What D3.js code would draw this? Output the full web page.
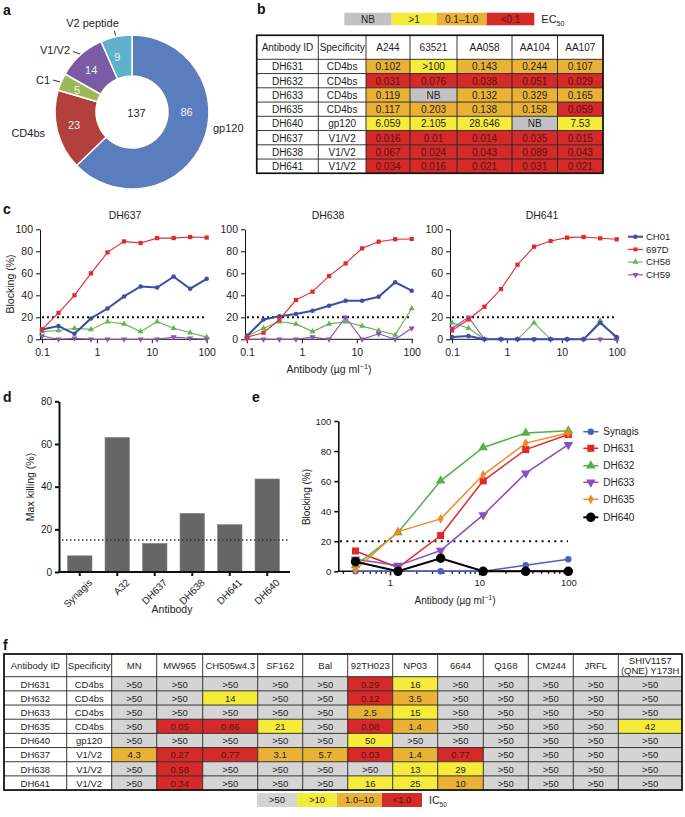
<!DOCTYPE html>
<html><head><meta charset="utf-8">
<script src="https://cdn.jsdelivr.net/npm/d3@7/dist/d3.min.js"></script>
<style>
body{margin:0;background:#fff;}
svg{display:block;}
svg text{font-family:"Liberation Sans",Arial,Helvetica,sans-serif;}
</style></head><body>
<svg width="685" height="817"></svg>
<script>
// ================= DATA =================
// a: donut
const donutCategories=["gp120","CD4bs","C1","V1/V2","V2 peptide"];
const donutValues=[86,23,5,14,9];
const donutTotal=137;

// b: EC50 table
const ec50Antibodies=["DH631","DH632","DH633","DH635","DH640","DH637","DH638","DH641"];
const ec50Specificities=["CD4bs","CD4bs","CD4bs","CD4bs","gp120","V1/V2","V1/V2","V1/V2"];
const ec50Strains=["A244","63521","AA058","AA104","AA107"];
const ec50Values=[
 ["0.102",">100","0.143","0.244","0.107"],
 ["0.031","0.076","0.038","0.051","0.029"],
 ["0.119","NB","0.132","0.329","0.165"],
 ["0.117","0.203","0.138","0.158","0.059"],
 ["6.059","2.105","28.646","NB","7.53"],
 ["0.016","0.01","0.014","0.035","0.015"],
 ["0.067","0.024","0.043","0.089","0.043"],
 ["0.034","0.016","0.021","0.031","0.021"]];
const ec50LegendLabels=["NB",">1","0.1–1.0","<0.1"];

// c: blocking curves
const blockingConcentrations=[0.1,0.2,0.39,0.78,1.56,3.125,6.25,12.5,25,50,100];
const blockingPanels=["DH637","DH638","DH641"];
const blockingSeries=["CH01","697D","CH58","CH59"];
const blockDH637_CH01=[9,12,5,19,28,39,48,47,57,46,55];
const blockDH637_697D=[9,24,40,60,79,89,87.5,92,92,93,92.5];
const blockDH637_CH58=[7,8,10,9,16,14,7,16,10,6,2];
const blockDH637_CH59=[3,0,1,0,0,0,0,0,2,1,0];
const blockDH638_CH01=[3,18,21,23,26,30.5,35,35,38.7,51.8,44.2];
const blockDH638_697D=[2,6,18,35.7,43.3,57.5,69,82.7,88.7,91,91.2];
const blockDH638_CH58=[3,10,16,14,7,14,16,12,8,4,28];
const blockDH638_CH59=[0,0,0,0,2,0,20,0,5,0,10];
const blockDH641_CH01=[2,3,0,0,0,0,0,0,0,15,2];
const blockDH641_697D=[8,18,29.6,45.7,67.8,84.2,89.4,92.4,93,91.8,90.9];
const blockDH641_CH58=[15,10,0,0,0,15,0,0,0,17,0];
const blockDH641_CH59=[10,20,0,0,0,0,0,0,0,0,0];

// d: max killing
const killingAntibodies=["Synagis","A32","DH637","DH638","DH641","DH640"];
const killingValues=[7.6,63.1,13.4,27.5,22.2,43.6];
const killingCutoff=15;

// e: blocking of CD4bs antibodies
const eConcentrations=[0.41,1.23,3.7,11.1,33.3,100];
const eSeriesNames=["Synagis","DH631","DH632","DH633","DH635","DH640"];
const eSynagis=[0,0,0,0,4,8];
const eDH631=[13.5,2.5,23.8,60.2,81,91];
const eDH632=[3.8,25.8,60.2,82.4,92,93.5];
const eDH633=[8,3.8,13.8,37.5,65.3,84.2];
const eDH635=[1,26.4,34.9,64.2,85.3,92];
const eDH640=[6.4,0,8.7,0,0,0];

// f: IC50 table
const ic50Antibodies=["DH631","DH632","DH633","DH635","DH640","DH637","DH638","DH641"];
const ic50Specificities=["CD4bs","CD4bs","CD4bs","CD4bs","gp120","V1/V2","V1/V2","V1/V2"];
const ic50Viruses=["MN","MW965","CH505w4.3","SF162","Bal","92TH023","NP03","6644","Q168","CM244","JRFL","SHIV1157\n(QNE) Y173H"];
const ic50Values=[
 [">50",">50",">50",">50",">50","0.29","16",">50",">50",">50",">50",">50"],
 [">50",">50","14",">50",">50","0.12","3.5",">50",">50",">50",">50",">50"],
 [">50",">50",">50",">50",">50","2.5","15",">50",">50",">50",">50",">50"],
 [">50","0.05","0.86","21",">50","0.08","1.4",">50",">50",">50",">50","42"],
 [">50",">50",">50",">50",">50","50",">50",">50",">50",">50",">50",">50"],
 ["4.3","0.27","0.77","3.1","5.7","0.03","1.4","0.77",">50",">50",">50",">50"],
 [">50","0.58",">50",">50",">50",">50","13","29",">50",">50",">50",">50"],
 [">50","0.34",">50",">50",">50","16","25","10",">50",">50",">50",">50"]];
const ic50LegendLabels=[">50",">10","1.0–10","<1.0"];

// ================= DRAWING =================
const svg=d3.select("svg");
const TXT="#1e1e1e";
const cellColorsB=["#c2c2c2","#f5eb3a","#e9b237","#d42a2a"];
const cellColorsF=["#d4d4d4","#f5eb3a","#e9b237","#d42a2a"];
const redText="#5a1212";

function label(t,x,y){svg.append("text").attr("x",x).attr("y",y).attr("font-size",14).attr("font-weight","bold").style("fill","#111").text(t);}
label("a",3,15);label("b",257,14);label("c",3,214);label("d",3,402);label("e",252,402);label("f",3,650);

// ---- a: donut ----
(function(){
  const cx=132,cy=112,R=77,r=36;
  const colors=["#5a7dbe","#b4403e","#9aba5a","#7a5ba4","#5db1cb"];
  const g=svg.append("g").attr("transform",`translate(${cx},${cy})`);
  const pie=d3.pie().sort(null).value(d=>d)(donutValues);
  const arc=d3.arc().innerRadius(r).outerRadius(R);
  g.selectAll("path").data(pie).join("path").attr("d",arc)
    .attr("fill",(d,i)=>colors[i]).attr("stroke","#fff").attr("stroke-width",1.5);
  g.selectAll("text.v").data(pie).join("text").attr("class","v")
    .attr("transform",(d,i)=>{
      if(i===0) return `translate(${(r+R)/2-2},0)`;
      const c=d3.arc().innerRadius((r+R)/2).outerRadius((r+R)/2).centroid(d);
      return `translate(${c[0]-3},${c[1]})`;})
    .attr("text-anchor","middle").attr("dy","0.35em").attr("font-size",11)
    .style("fill",(d,i)=>i===2?"#f4f4f4":"#eef0f6").text(d=>d.data);
  svg.append("text").attr("x",cx+4.5).attr("y",cy+1).attr("dy","0.35em").attr("text-anchor","middle")
    .attr("font-size",11).style("fill",TXT).text(donutTotal);
  const lab=[
    {t:donutCategories[0],x:213,y:128,a:"start"},
    {t:donutCategories[1],x:45,y:133,a:"end"},
    {t:donutCategories[2],x:50,y:80,a:"end",l:[53,80,60,82]},
    {t:donutCategories[3],x:70,y:50.5,a:"end",l:[73,51.5,80,54]},
    {t:donutCategories[4],x:92.5,y:23,a:"middle",l:[114.5,31,115.5,35.5]}];
  lab.forEach(o=>{
    svg.append("text").attr("x",o.x).attr("y",o.y).attr("dy","0.35em").attr("text-anchor",o.a)
      .attr("font-size",11).style("fill",TXT).text(o.t);
    if(o.l) svg.append("line").attr("x1",o.l[0]).attr("y1",o.l[1]).attr("x2",o.l[2]).attr("y2",o.l[3]).attr("stroke","#333").attr("stroke-width",1);
  });
})();

// ---- generic table ----
function drawTable(x0,y0,colW,headH,rowH,header,rows,classFn,colors,fs,hfs){
  const g=svg.append("g");
  const xs=[x0];colW.forEach(w=>xs.push(xs[xs.length-1]+w));
  const W=xs[xs.length-1]-x0,H=headH+rows.length*rowH;
  g.append("rect").attr("x",x0).attr("y",y0).attr("width",W).attr("height",H).attr("fill","#fff");
  rows.forEach((row,i)=>row.forEach((v,j)=>{
    const cls=j<2?-1:classFn(v);
    const y=y0+headH+i*rowH;
    if(cls>=0) g.append("rect").attr("x",xs[j]).attr("y",y).attr("width",colW[j]).attr("height",rowH).attr("fill",colors[cls]);
    g.append("text").attr("x",xs[j]+colW[j]/2).attr("y",y+rowH/2+0.5).attr("dy","0.35em").attr("text-anchor","middle")
      .attr("font-size",fs).style("fill",cls===3?redText:TXT).text(v);
  }));
  header.forEach((h,j)=>{
    const lines=h.split("\n");
    lines.forEach((ln,k)=>{
      g.append("text").attr("x",xs[j]+colW[j]/2).attr("y",y0+headH/2+(k-(lines.length-1)/2)*hfs*1.05+0.5).attr("dy","0.35em")
        .attr("text-anchor","middle").attr("font-size",hfs).style("fill",TXT).text(ln);
    });
  });
  xs.forEach(x=>g.append("line").attr("x1",x).attr("x2",x).attr("y1",y0).attr("y2",y0+H).attr("stroke","#222").attr("stroke-width",0.9));
  const ys=[y0,y0+headH];rows.forEach((r,i)=>ys.push(y0+headH+(i+1)*rowH));
  ys.forEach(y=>g.append("line").attr("x1",x0).attr("x2",x0+W).attr("y1",y).attr("y2",y).attr("stroke","#222").attr("stroke-width",0.9));
  g.append("rect").attr("x",x0).attr("y",y0).attr("width",W).attr("height",H).attr("fill","none").attr("stroke","#111").attr("stroke-width",1.6);
}
function drawLegendBoxes(x0,y0,widths,h,labels,colors,fs,sub){
  let x=x0;
  labels.forEach((t,i)=>{
    svg.append("rect").attr("x",x).attr("y",y0).attr("width",widths[i]).attr("height",h).attr("fill",colors[i]);
    svg.append("text").attr("x",x+widths[i]/2).attr("y",y0+h/2).attr("dy","0.35em").attr("text-anchor","middle")
      .attr("font-size",fs).style("fill",i===3?redText:TXT).text(t);
    x+=widths[i];
  });
  const t=svg.append("text").attr("x",x+7).attr("y",y0+h/2).attr("dy","0.35em").attr("font-size",fs+1).style("fill",TXT);
  t.append("tspan").text(sub[0]);
  t.append("tspan").attr("font-size",fs*0.7).attr("dy","3").text(sub[1]);
}

// ---- b ----
function ec50Class(v){if(v==="NB")return 0;const n=parseFloat(v.replace(">",""));if(v[0]===">"||n>1)return 1;if(n>=0.1)return 2;return 3;}
drawLegendBoxes(344.3,12.7,[47.4,45,50,47.6],12.6,ec50LegendLabels,cellColorsB,10,["EC","50"]);
drawTable(256.7,35.3,[61.6,47.7,44,47,55,45.5,45.5],24,14.25,
  ["Antibody ID","Specificity"].concat(ec50Strains),
  ec50Antibodies.map((a,i)=>[a,ec50Specificities[i]].concat(ec50Values[i])),
  ec50Class,cellColorsB,10,10);

// ---- c ----
const cColors={"CH01":"#3b4fa6","697D":"#e02a2c","CH58":"#62b651","CH59":"#8b52b2"};
const cSym={"CH01":d3.symbolCircle,"697D":d3.symbolSquare,"CH58":d3.symbolTriangle,"CH59":d3.symbolTriangle};
const cData={
  DH637:{CH01:blockDH637_CH01,"697D":blockDH637_697D,CH58:blockDH637_CH58,CH59:blockDH637_CH59},
  DH638:{CH01:blockDH638_CH01,"697D":blockDH638_697D,CH58:blockDH638_CH58,CH59:blockDH638_CH59},
  DH641:{CH01:blockDH641_CH01,"697D":blockDH641_697D,CH58:blockDH641_CH58,CH59:blockDH641_CH59}};
const cX0=[42,247,452], cTitleX=[125,328,542];
const cY=d3.scaleLinear().domain([0,100]).range([339.3,229.3]);
function styleAxis(ax,fs,sw){
  ax.selectAll("text").attr("font-size",fs).style("fill",TXT).attr("font-family",null);
  ax.selectAll("path,line").attr("stroke","#111").attr("stroke-width",sw);
}
blockingPanels.forEach((p,pi)=>{
  const x0=cX0[pi];
  const x=d3.scaleLog().domain([0.1,100]).range([x0,x0+164.7]);
  const g=svg.append("g");
  g.append("text").attr("x",cTitleX[pi]).attr("y",215).attr("dy","0.35em").attr("text-anchor","middle").attr("font-size",10.5).style("fill",TXT).text(p);
  const ya=g.append("g").attr("transform",`translate(${x0-2},0)`).call(d3.axisLeft(cY).tickValues([0,20,40,60,80,100]).tickSize(4).tickSizeOuter(0).tickPadding(3));
  styleAxis(ya,10.5,1);
  const xa=g.append("g").attr("transform",`translate(0,${cY(0)})`).call(d3.axisBottom(x).tickValues([0.1,1,10,100]).tickFormat(d3.format("~g")).tickSize(4).tickSizeOuter(0).tickPadding(5));
  xa.select(".domain").attr("d",`M${x0-2},0H${x0+166}`);
  styleAxis(xa,10.5,1);
  g.append("line").attr("x1",x0).attr("x2",x0+165).attr("y1",cY(20)).attr("y2",cY(20)).attr("stroke","#111").attr("stroke-width",2).attr("stroke-dasharray","2,3");
  ["CH58","CH59","CH01","697D"].forEach(s=>{
    const vals=cData[p][s];
    const pts=blockingConcentrations.map((c,i)=>[x(c),cY(vals[i])]);
    g.append("path").attr("d",d3.line()(pts)).attr("fill","none").attr("stroke",cColors[s]).attr("stroke-width",s==="CH01"?2:1.1);
    g.selectAll(null).data(pts).join("path").attr("d",d3.symbol(cSym[s],s==="697D"?18:16)())
      .attr("transform",d=>`translate(${d[0]},${d[1]})${s==="CH59"?" rotate(180)":""}`).attr("fill",cColors[s]);
  });
});
blockingSeries.forEach((s,i)=>{
  const y=236.7+i*12.7;
  svg.append("line").attr("x1",628).attr("x2",643).attr("y1",y).attr("y2",y).attr("stroke",cColors[s]).attr("stroke-width",s==="CH01"?2:1.1);
  svg.append("path").attr("d",d3.symbol(cSym[s],16)()).attr("transform",`translate(635.5,${y})${s==="CH59"?" rotate(180)":""}`).attr("fill",cColors[s]);
  svg.append("text").attr("x",646).attr("y",y).attr("dy","0.35em").attr("font-size",9.5).style("fill",TXT).text(s);
});
svg.append("text").attr("transform","translate(10,284) rotate(-90)").attr("text-anchor","middle").attr("dy","0.35em").attr("font-size",10.5).style("fill",TXT).text("Blocking (%)");
function abTitle(x,y,fs){
  const t=svg.append("text").attr("x",x).attr("y",y).attr("dy","0.35em").attr("text-anchor","middle").attr("font-size",fs).style("fill",TXT);
  t.append("tspan").text("Antibody (\u00b5g ml");
  t.append("tspan").attr("font-size",fs*0.7).attr("dy","-4").text("\u22121");
  t.append("tspan").attr("dy","4").text(")");
}
abTitle(329,369,10.5);

// ---- d ----
(function(){
  const x=d3.scaleBand().domain(killingAntibodies).range([61,286]).paddingInner(0.347).paddingOuter(0.1735);
  const y=d3.scaleLinear().domain([0,80]).range([572,401.3]);
  const g=svg.append("g");
  g.selectAll("rect").data(killingValues).join("rect")
    .attr("x",(d,i)=>x(killingAntibodies[i])).attr("width",x.bandwidth())
    .attr("y",d=>y(d)).attr("height",d=>y(0)-y(d)).attr("fill","#666").attr("stroke","#8a8a8a").attr("stroke-width",0.6);
  g.append("line").attr("x1",62).attr("x2",290).attr("y1",y(killingCutoff)).attr("y2",y(killingCutoff)).attr("stroke","#333").attr("stroke-width",1.3).attr("stroke-dasharray","1.5,2.5");
  const ya=g.append("g").attr("transform","translate(59,0)").call(d3.axisLeft(y).tickValues([0,20,40,60,80]).tickSize(4).tickSizeOuter(0).tickPadding(3));
  styleAxis(ya,10,2);
  const xa=g.append("g").attr("transform",`translate(0,${y(0)})`).call(d3.axisBottom(x).tickSize(4).tickSizeOuter(0));
  xa.select(".domain").attr("d","M58,0H290");
  styleAxis(xa,10,2);
  xa.selectAll("text").attr("text-anchor","end").attr("transform","translate(4,2) rotate(-45)").attr("dy","0.7em").attr("y",6).attr("x",0);
  svg.append("text").attr("x",172).attr("y",609).attr("dy","0.35em").attr("text-anchor","middle").attr("font-size",10.5).style("fill",TXT).text("Antibody");
  svg.append("text").attr("transform","translate(30,487) rotate(-90)").attr("text-anchor","middle").attr("dy","0.35em").attr("font-size",10.5).style("fill",TXT).text("Max killing (%)");
})();

// ---- e ----
(function(){
  const x=d3.scaleLog().domain([0.263,112]).range([338.3,572.7]);
  const y=d3.scaleLinear().domain([0,100]).range([571.3,421]);
  const colors=["#4a60c0","#e02a2a","#55b04a","#8a50bb","#f08a25","#000"];
  const syms=[d3.symbolCircle,d3.symbolSquare,d3.symbolTriangle,d3.symbolTriangle,d3.symbolDiamond,d3.symbolCircle];
  const sizes=[32,50,40,40,28,70];
  const series=[eSynagis,eDH631,eDH632,eDH633,eDH635,eDH640];
  const g=svg.append("g");
  g.append("line").attr("x1",340).attr("x2",568).attr("y1",y(20)).attr("y2",y(20)).attr("stroke","#111").attr("stroke-width",2).attr("stroke-dasharray","2,4.3");
  const ya=g.append("g").attr("transform","translate(338.3,0)").call(d3.axisLeft(y).tickValues([0,20,40,60,80,100]).tickSize(4).tickSizeOuter(0).tickPadding(3));
  styleAxis(ya,9.5,1.6);
  const xa=g.append("g").attr("transform",`translate(0,${y(0)})`).call(d3.axisBottom(x).tickValues([1,10,100]).tickFormat(d3.format("~g")).tickSize(4).tickSizeOuter(0).tickPadding(4));
  xa.select(".domain").attr("d","M338.3,0H572.7");
  styleAxis(xa,9.5,1.6);
  const minor=[];[0.1,1,10].forEach(b=>[2,3,4,5,6,7,8,9].forEach(m=>{const v=b*m;if(v>0.263&&v<112)minor.push(v);}));
  g.selectAll(null).data(minor).join("line").attr("x1",d=>x(d)).attr("x2",d=>x(d)).attr("y1",y(0)).attr("y2",y(0)+2.5).attr("stroke","#111").attr("stroke-width",1.4);
  series.forEach((vals,si)=>{
    const pts=eConcentrations.map((c,i)=>[x(c),y(vals[i])]);
    g.append("path").attr("d",d3.line()(pts)).attr("fill","none").attr("stroke",colors[si]).attr("stroke-width",si===5?2:1.5);
    g.selectAll(null).data(pts).join("path").attr("d",d3.symbol(syms[si],sizes[si])())
      .attr("transform",d=>`translate(${d[0]},${d[1]})${si===3?" rotate(180)":""}`).attr("fill",colors[si]);
  });
  eSeriesNames.forEach((s,i)=>{
    const yy=[431.7,448.3,465.7,482.3,499.3,517.3][i];
    svg.append("line").attr("x1",583.3).attr("x2",598.3).attr("y1",yy).attr("y2",yy).attr("stroke",colors[i]).attr("stroke-width",i===5?2:1.5);
    svg.append("path").attr("d",d3.symbol(syms[i],sizes[i])()).attr("transform",`translate(590.8,${yy})${i===3?" rotate(180)":""}`).attr("fill",colors[i]);
    svg.append("text").attr("x",603.3).attr("y",yy).attr("dy","0.35em").attr("font-size",10).style("fill",TXT).text(s);
  });
  svg.append("text").attr("transform","translate(306.7,497) rotate(-90)").attr("text-anchor","middle").attr("dy","0.35em").attr("font-size",10).style("fill",TXT).text("Blocking (%)");
  abTitle(455,600,10);
})();

// ---- f ----
function ic50Class(v){if(v===">50")return 0;const n=+v;if(n>10)return 1;if(n>=1)return 2;return 3;}
drawTable(4,654,[62.7,45,45,46,55,45,45,45,45,45.6,45,45,45,63.7],22.7,14.17,
  ["Antibody ID","Specificity"].concat(ic50Viruses),
  ic50Antibodies.map((a,i)=>[a,ic50Specificities[i]].concat(ic50Values[i])),
  ic50Class,cellColorsF,9.5,9.5);
drawLegendBoxes(257,793,[40,40,45,40],14,ic50LegendLabels,cellColorsF,9.5,["IC","50"]);
</script></body></html>
